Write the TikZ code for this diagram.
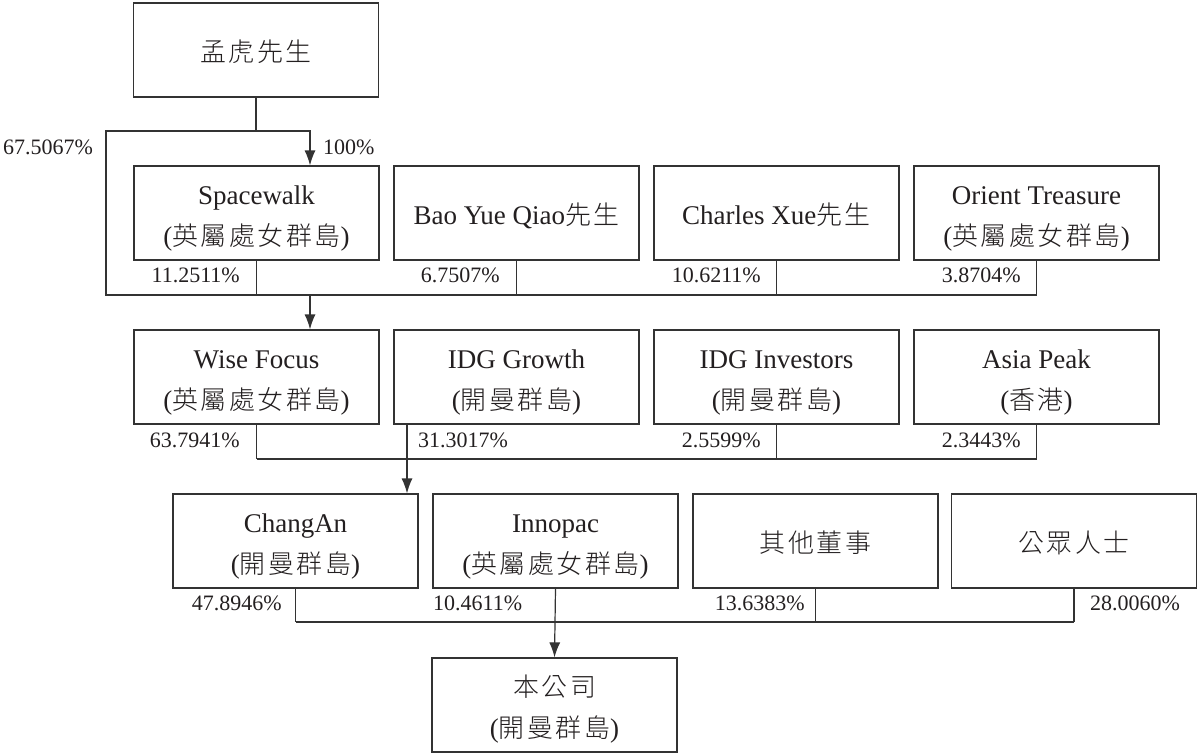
\documentclass[tikz,border=0pt]{standalone}
\usepackage{fontspec}
\setmainfont{Liberation Serif}
\newfontfamily\cjkfam[LetterSpace=10,Scale=0.96,UprightFont=* Light]{Noto Sans CJK TC}
\newcommand\zhtxt[1]{{\cjkfam #1}}
\newcommand\onel[1]{\rule{0pt}{27pt}#1\rule[-5pt]{0pt}{0pt}}
\newcommand\twol[2]{\rule{0pt}{30pt}#1\\#2}
\usetikzlibrary{arrows.meta}
\definecolor{linec}{HTML}{333333}
\definecolor{textc}{HTML}{231F20}
\begin{document}
\begin{tikzpicture}[x=1pt,y=-1pt,
  box/.style={draw=linec, line width=1.2pt, minimum width=245pt, minimum height=94pt, inner sep=0pt, align=center, font=\fontsize{27}{41.5}\selectfont, text=textc},
  pct/.style={font=\fontsize{22}{22}\selectfont, text=textc, inner sep=0pt},
  conn/.style={draw=linec, line width=1.2pt},
  arr/.style={conn, -{Latex[length=15pt,width=11pt]}}]
\fill[white] (0,0) rectangle (1197,753);
\useasboundingbox (0,0) rectangle (1197,753);

% boxes
\node[box] (top) at (256,50) {\onel{\zhtxt{孟虎先生}}};

\node[box] (sw)  at (256.5,213) {\twol{Spacewalk}{(\zhtxt{英屬處女群島})}};
\node[box] (bao) at (516.5,213) {\onel{Bao Yue Qiao\zhtxt{先生}}};
\node[box] (chx) at (776.5,213) {\onel{Charles Xue\zhtxt{先生}}};
\node[box] (ori) at (1036.5,213) {\twol{Orient Treasure}{(\zhtxt{英屬處女群島})}};

\node[box] (wf)   at (256.5,377) {\twol{Wise Focus}{(\zhtxt{英屬處女群島})}};
\node[box] (idgg) at (516.5,377) {\twol{IDG Growth}{(\zhtxt{開曼群島})}};
\node[box] (idgi) at (776.5,377) {\twol{IDG Investors}{(\zhtxt{開曼群島})}};
\node[box] (ap)   at (1036.5,377) {\twol{Asia Peak}{(\zhtxt{香港})}};

\node[box] (ca)  at (295.5,541) {\twol{ChangAn}{(\zhtxt{開曼群島})}};
\node[box] (inn) at (555.5,541) {\twol{Innopac}{(\zhtxt{英屬處女群島})}};
\node[box] (oth) at (815.5,541) {\onel{\zhtxt{其他董事}}};
\node[box] (pub) at (1074,541) {\onel{\zhtxt{公眾人士}}};

\node[box] (co) at (554.5,705) {\twol{\zhtxt{本公司}}{(\zhtxt{開曼群島})}};

% level 0 -> 1
\coordinate (j0) at (256,131);
\draw[conn] (top.south) -- (j0);
\draw[arr] (j0) -| ([xshift=53.5pt]sw.north);
\coordinate (b1w) at (106,295);
\coordinate (b1e) at (1036.5,295);
\draw[conn] (j0) -| (b1w) -- (b1e);
\foreach \n in {sw,bao,chx,ori} \draw[conn] (\n.south) -- (\n.south |- b1w);
\coordinate (b1a) at (310,295);
\draw[arr] (b1a) -- (b1a |- wf.north);

% level 2 -> 3
\coordinate (b2w) at (256.5,459);
\coordinate (b2e) at (1036.5,459);
\draw[conn] (b2w) -- (b2e);
\foreach \n in {wf,idgi,ap} \draw[conn] (\n.south) -- (\n.south |- b2w);
\draw[arr] ([xshift=-109.5pt]idgg.south) -- ([xshift=-109.5pt]idgg.south |- ca.north);

% level 3 -> 4
\coordinate (b3w) at (295.5,622);
\coordinate (b3e) at (1074,622);
\draw[conn] (b3w) -- (b3e);
\foreach \n in {ca,oth,pub} \draw[conn] (\n.south) -- (\n.south |- b3w);
\draw[arr] (inn.south) -- (co.north);

% labels
\node[pct, anchor=base west] (l0) at (3,154) {67.5067\%};
\node[pct, anchor=base west] (l00) at (323,154) {100\%};

\node[pct, anchor=base east] (l1) at (240,282) {11.2511\%};
\node[pct, anchor=base east] (l2) at (500,282) {6.7507\%};
\node[pct, anchor=base east] (l3) at (761,282) {10.6211\%};
\node[pct, anchor=base east] (l4) at (1021,282) {3.8704\%};

\node[pct, anchor=base east] (l5) at (240,447) {63.7941\%};
\node[pct, anchor=base west] (l6) at (418,447) {31.3017\%};
\node[pct, anchor=base east] (l7) at (761,447) {2.5599\%};
\node[pct, anchor=base east] (l8) at (1021,447) {2.3443\%};

\node[pct, anchor=base east] (l9) at (282,610) {47.8946\%};
\node[pct, anchor=base west] (l10) at (433,610) {10.4611\%};
\node[pct, anchor=base east] (l11) at (805,610) {13.6383\%};
\node[pct, anchor=base west] (l12) at (1090,610) {28.0060\%};
\end{tikzpicture}
\end{document}
